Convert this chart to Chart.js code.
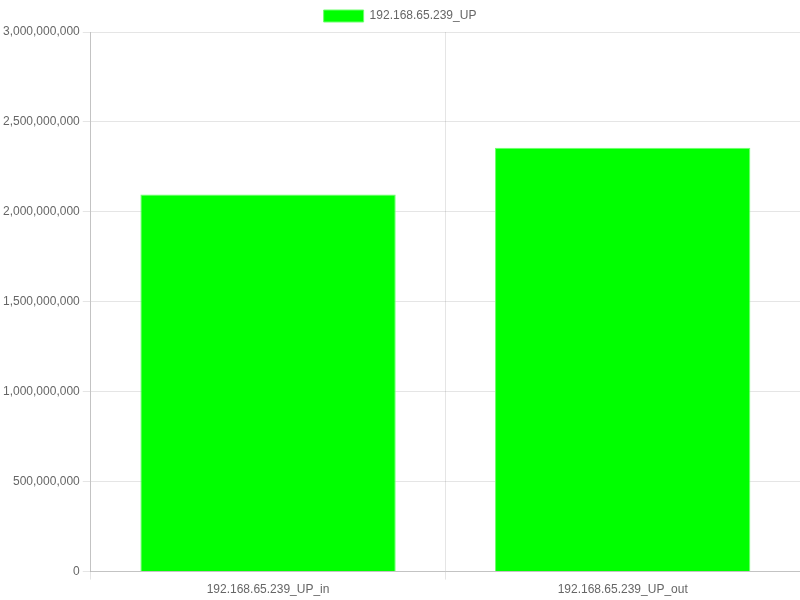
<!DOCTYPE html>
<html>
<head>
<meta charset="utf-8">
<script src="https://cdn.jsdelivr.net/npm/chart.js@4/dist/chart.umd.min.js"></script>
<style>
html,body{margin:0;padding:0;background:#fff;}
#wrap{width:800px;height:600px;}
</style>
</head>
<body>
<div id="wrap"><canvas id="c" width="800" height="600"></canvas></div>
<script>
const categories = ["192.168.65.239_UP_in", "192.168.65.239_UP_out"];
const seriesName = "192.168.65.239_UP";
const seriesValues = [2097000000, 2357000000];

Chart.defaults.font.family = "'Liberation Sans', Arial, Helvetica, sans-serif";
Chart.defaults.font.size = 12;
Chart.defaults.color = "#666";

new Chart(document.getElementById('c'), {
  type: 'bar',
  data: {
    labels: categories,
    datasets: [{
      label: seriesName,
      data: seriesValues,
      backgroundColor: 'rgb(0,255,0)',
      borderColor: 'rgb(110,255,110)',
      borderWidth: 1
    }]
  },
  options: {
    responsive: false,
    animation: false,
    devicePixelRatio: 1,
    layout: { padding: 0 },
    plugins: {
      legend: {
        labels: { boxWidth: 40, boxHeight: 12, color: '#666' }
      },
      tooltip: { enabled: false }
    },
    scales: {
      x: {
        grid: { color: 'rgba(0,0,0,0.1)', offset: true, tickLength: 8 },
        border: { color: 'rgba(0,0,0,0.15)' },
        ticks: { color: '#666' }
      },
      y: {
        min: 0,
        max: 3000000000,
        ticks: {
          stepSize: 500000000,
          color: '#666',
          callback: v => v.toLocaleString('en-US')
        },
        grid: { color: 'rgba(0,0,0,0.1)', tickLength: 8 },
        border: { color: 'rgba(0,0,0,0.15)' }
      }
    }
  }
});
</script>
</body>
</html>
